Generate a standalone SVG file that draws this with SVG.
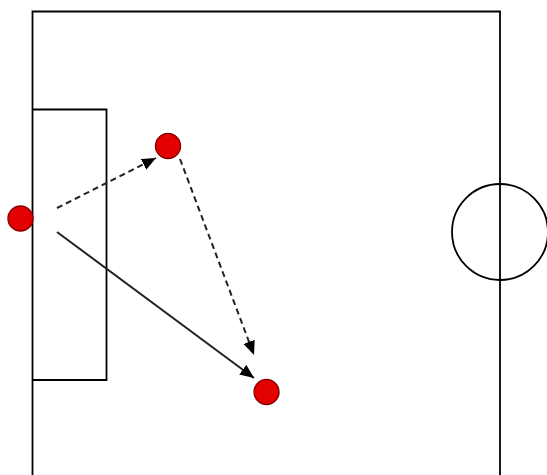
<svg xmlns="http://www.w3.org/2000/svg" width="547" height="475" viewBox="0 0 547 475">
<style>
.line{fill:none;stroke:#000;stroke-width:1.8}
.conn{fill:none;stroke:#222;stroke-width:2}
.dash{stroke-dasharray:6 4}
.player{fill:#e30000;stroke:#8a0000;stroke-width:1.4}
</style>
<defs>
<marker id="ah" viewBox="0 0 14 12" refX="14" refY="6" markerWidth="14" markerHeight="12" markerUnits="userSpaceOnUse" orient="auto">
<path d="M0,0 L14,6 L0,12 Z" fill="#000"/>
</marker>
</defs>
<rect width="547" height="475" fill="#fff"/>
<g id="field">
<path class="line" d="M32.5,475 V11.5 H500 V475"/>
<path class="line" d="M32.5,109.5 H106.5 V380 H32.5"/>
<circle class="line" cx="500" cy="232" r="48" stroke-width="1.6"/>
</g>
<g id="connectors">
<line class="conn dash" x1="57" y1="208" x2="156" y2="158" marker-end="url(#ah)"/>
<line class="conn dash" x1="180" y1="159" x2="254" y2="355" marker-end="url(#ah)"/>
<line class="conn" x1="57" y1="232" x2="254" y2="378" marker-end="url(#ah)"/>
</g>
<g id="player1"><circle class="player" cx="20.5" cy="218.5" r="12.5"/></g>
<g id="player2"><circle class="player" cx="168" cy="146" r="12.5"/></g>
<g id="player3"><circle class="player" cx="266.5" cy="392" r="12.5"/></g>
</svg>
